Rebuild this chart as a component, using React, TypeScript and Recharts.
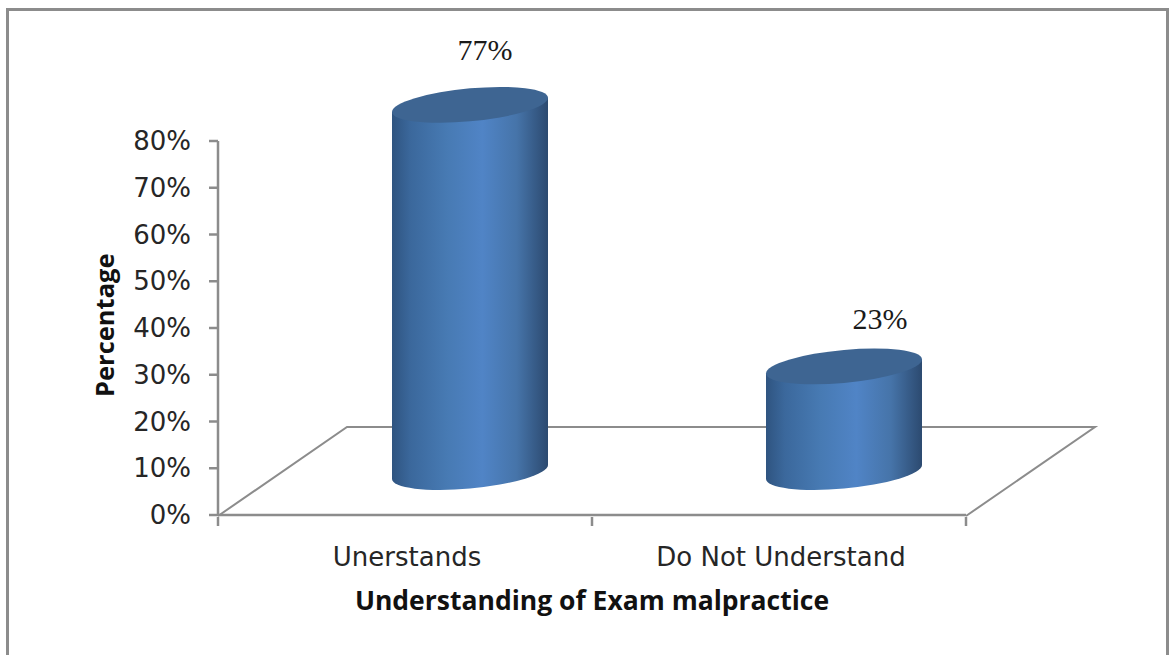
import { BarChart, Bar, XAxis, YAxis, LabelList } from "recharts";

const categories = ["Unerstands", "Do Not Understand"];
const percentages = [77, 23];
const valueLabels = ["77%", "23%"];
const yTicks = [0, 10, 20, 30, 40, 50, 60, 70, 80];

const chartData = categories.map((name, i) => ({ name, value: percentages[i], label: valueLabels[i] }));

const GREY = "#8c8c8c";
const TEXT = "#262626";
const AXIS_FONT = "'DejaVu Sans', sans-serif";
const TITLE_FONT = "'Open Sans', sans-serif";

// fake 3d depth of the floor
const DEPTH_X = 65;
const DEPTH_Y = 43;
const HEIGHT_STRETCH = 1.036;
const HEIGHT_TRIM = 5.8;
const SHEAR = 0.09;
const RY = 16.5;
const HALF_BAND = 187;
const TICK_LEN = 9;

// labels were moved by hand in the original
const labelShift = [
  { dx: 80, dy: -95 },
  { dx: 101, dy: -78 },
];

function Cylinder(props: any) {
  const { x, y, width, height } = props;
  const a = width / 2;
  const h = height * HEIGHT_STRETCH - HEIGHT_TRIM;
  const cx = x + a + DEPTH_X;
  const top = y + height - DEPTH_Y - h;
  const body = `M${-a},0 V${h} A${a},${RY} 0 0 0 ${a},${h} V0 Z`;
  return (
    <g transform={`translate(${cx},${top}) matrix(1,${-SHEAR},0,1,0,0)`}>
      <path d={body} fill="url(#cylBody)" />
      <ellipse cx={0} cy={0} rx={a} ry={RY} fill="#3e6592" />
    </g>
  );
}

function ValueLabel(props: any) {
  const { x, y, width, index } = props;
  const shift = labelShift[index];
  return (
    <text
      x={x + width / 2 + shift.dx}
      y={y + shift.dy}
      textAnchor="middle"
      fontFamily="'Liberation Serif', serif"
      fontSize={30}
      fill="#1a1a1a"
    >
      {valueLabels[index]}
    </text>
  );
}

// tick marks sit between the categories, not under them
function CategoryTick(props: any) {
  const { x, y, payload, index } = props;
  return (
    <g>
      {index === 0 && (
        <line x1={x - HALF_BAND} x2={x - HALF_BAND} y1={y} y2={y + TICK_LEN} stroke={GREY} strokeWidth={2.5} />
      )}
      <line x1={x + HALF_BAND} x2={x + HALF_BAND} y1={y} y2={y + TICK_LEN} stroke={GREY} strokeWidth={2.5} />
      <text x={x + 2} y={y + 49} textAnchor="middle" fill={TEXT} fontSize={26} fontFamily={AXIS_FONT}>
        {payload.value}
      </text>
    </g>
  );
}

export default function App() {
  return (
    <div style={{ position: "absolute", left: 0, top: 0, width: 1169, height: 655, background: "#fff", overflow: "hidden" }}>
      <div
        style={{
          position: "absolute",
          left: 6,
          top: 8,
          width: 1163,
          height: 660,
          border: `3px solid ${GREY}`,
          boxSizing: "border-box",
        }}
      />
      <div style={{ position: "absolute", left: 0, top: 0 }}>
        <BarChart
          width={1169}
          height={655}
          data={chartData}
          margin={{ top: 141, right: 203, left: 0, bottom: 0 }}
          barSize={156}
        >
          <defs>
            <linearGradient id="cylBody" x1="0" y1="0" x2="1" y2="0">
              <stop offset="0" stopColor="#2f5480" />
              <stop offset="0.12" stopColor="#3b689c" />
              <stop offset="0.35" stopColor="#477ab3" />
              <stop offset="0.58" stopColor="#5084c6" />
              <stop offset="0.8" stopColor="#4674a9" />
              <stop offset="1" stopColor="#2c4a70" />
            </linearGradient>
          </defs>
          <polyline points="218,516 347,427 1095,427 966,516" fill="none" stroke={GREY} strokeWidth={2} />
          <XAxis
            dataKey="name"
            height={140}
            stroke={GREY}
            strokeWidth={2.5}
            tickLine={false}
            tickSize={0}
            tick={<CategoryTick />}
            interval={0}
            label={{
              value: "Understanding of Exam malpractice",
              position: "insideTop",
              dy: 71,
              fill: "#111",
              fontSize: 26.5,
              fontWeight: 700,
              fontFamily: TITLE_FONT,
            }}
          />
          <YAxis
            width={218}
            domain={[0, 80]}
            ticks={yTicks}
            tickFormatter={(v: number) => `${v}%`}
            stroke={GREY}
            strokeWidth={2.5}
            tickSize={TICK_LEN}
            tickMargin={18}
            tick={{ fill: TEXT, fontSize: 26, fontFamily: AXIS_FONT }}
            label={{
              value: "Percentage",
              angle: -90,
              position: "insideLeft",
              dx: 100,
              dy: 69,
              fill: "#111",
              fontSize: 25.5,
              fontWeight: 700,
              fontFamily: TITLE_FONT,
            }}
          />
          <Bar dataKey="value" shape={<Cylinder />} isAnimationActive={false}>
            <LabelList dataKey="label" content={<ValueLabel />} />
          </Bar>
        </BarChart>
      </div>
    </div>
  );
}
